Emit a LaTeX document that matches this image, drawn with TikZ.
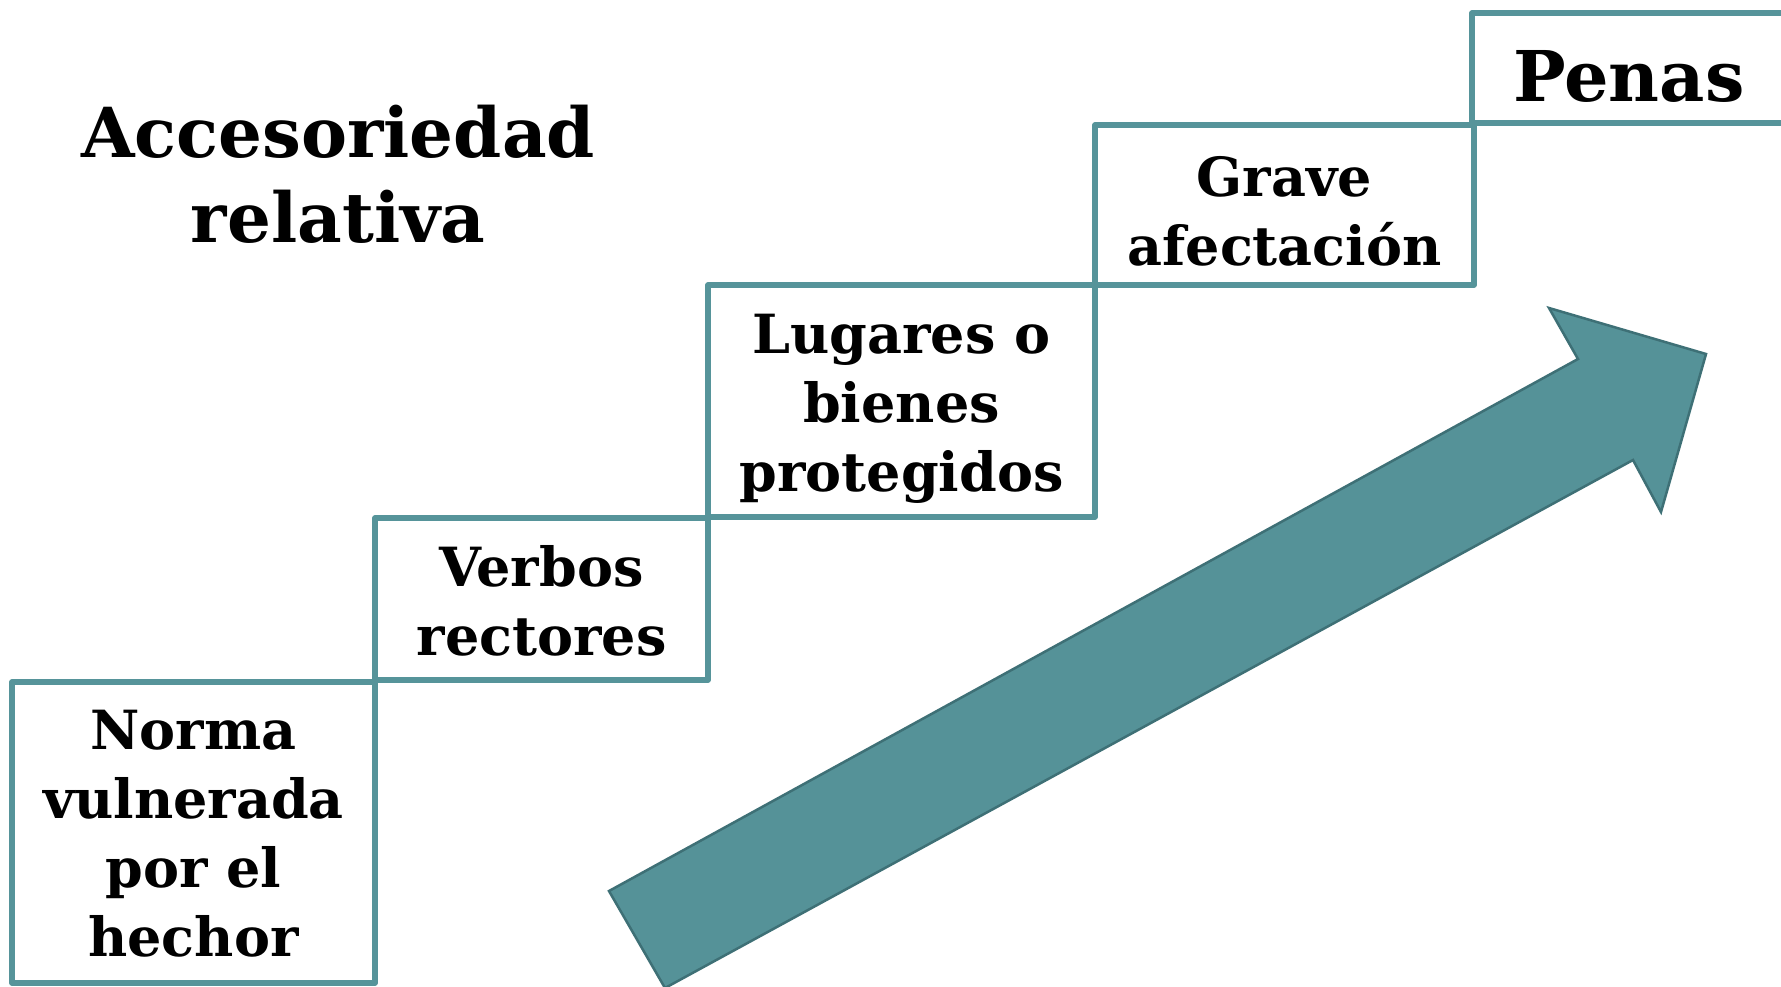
\documentclass[tikz,border=0pt]{standalone}
\usepackage{fontspec}
\setmainfont{DejaVu Serif}
\definecolor{teal1}{RGB}{86,148,154}
\definecolor{tealfill}{RGB}{85,146,152}
\definecolor{tealdark}{RGB}{62,112,118}
\begin{document}
\begin{tikzpicture}[x=1pt,y=-1pt,
  stepbox/.style={draw=teal1, line width=5.5pt, line join=round, rectangle, inner sep=0pt},
  steptext/.style={align=center, inner sep=0pt, font=\bfseries\fontsize{54}{69}\selectfont},
  titletext/.style={align=center, inner sep=0pt, font=\bfseries\fontsize{69}{85}\selectfont}]
\useasboundingbox (0,0) rectangle (1781,986);
\fill[white] (0,0) rectangle (1781,986);
% boxes
\node[stepbox, minimum width=363pt, minimum height=301pt] (b1) at (193.5,832.5) {};
\node[stepbox, minimum width=333pt, minimum height=162pt] (b2) at (541.5,599) {};
\node[stepbox, minimum width=387pt, minimum height=232pt] (b3) at (901.5,401) {};
\node[stepbox, minimum width=379pt, minimum height=160pt] (b4) at (1284.5,205) {};
\node[stepbox, minimum width=330pt, minimum height=110pt] (b5) at (1637,68) {};
% texts
\node[steptext] (t1) at (193.5,834) {Norma\\vulnerada\\por el\\hechor};
\node[steptext] (t2) at (541.5,601) {Verbos\\rectores};
\node[steptext] (t3) at (901.5,409) {Lugares o\\bienes\\protegidos};
\node[steptext] (t4) at (1284.5,211) {Grave\\afectación};
\node[titletext, font=\bfseries\fontsize{70}{85}\selectfont] (penas) at (1629,76) {Penas};
% title
\node[titletext] (title) at (338,174) {Accesoriedad\\relativa};
% arrow
\coordinate (a1) at (609,891);
\coordinate (s1) at (1578,359);
\coordinate (h1) at (1549,308);
\coordinate (tip) at (1706,354);
\coordinate (h2) at (1661,512);
\coordinate (s2) at (1633,460);
\coordinate (a2) at (665,988);
\draw[fill=tealfill, draw=tealdark, line width=2.5pt, line join=miter]
  (a1) -- (s1) -- (h1) -- (tip) -- (h2) -- (s2) -- (a2) -- cycle;
\end{tikzpicture}
\end{document}
